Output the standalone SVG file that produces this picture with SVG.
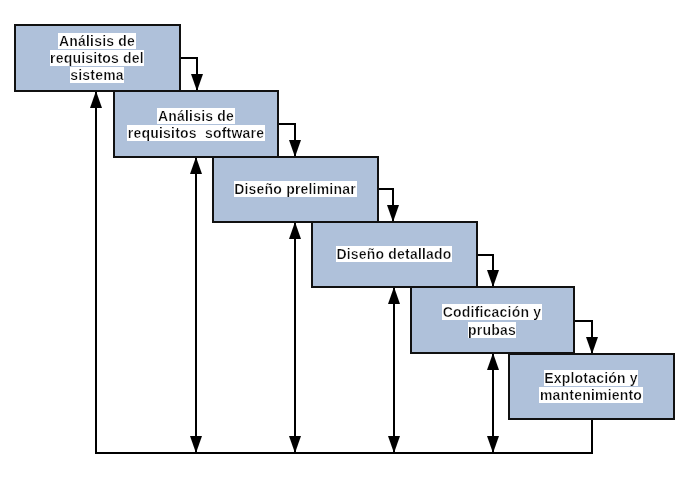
<svg xmlns="http://www.w3.org/2000/svg" width="698" height="492" viewBox="0 0 698 492">
<defs>
<marker id="ah" viewBox="0 0 17 12" markerWidth="17" markerHeight="12" refX="17" refY="6" markerUnits="userSpaceOnUse" orient="auto-start-reverse">
<path d="M0,0 L17,6 L0,12 z" fill="#000"/>
</marker>
<filter id="bg" x="0" y="0" width="1" height="1">
<feFlood flood-color="#fff"/>
<feComposite in="SourceGraphic"/>
</filter>
</defs>
<style>
.box{fill:#AFC1DA;stroke:#111;stroke-width:2}
.t{font-family:"Liberation Sans",Arial,sans-serif;font-weight:bold;font-size:14px;letter-spacing:0.2px;text-anchor:middle;fill:#111;filter:url(#bg)}
.c{fill:none;stroke:#000;stroke-width:2}
</style>
<rect width="698" height="492" fill="#fff"/>
<g id="connectors">
<path class="c" d="M180,58 H197 V91" marker-end="url(#ah)"/>
<path class="c" d="M278,124 H295 V157" marker-end="url(#ah)"/>
<path class="c" d="M378,189 H393 V222" marker-end="url(#ah)"/>
<path class="c" d="M477,255 H493 V287" marker-end="url(#ah)"/>
<path class="c" d="M574,321 H592 V354" marker-end="url(#ah)"/>
<path class="c" d="M592,419 V453 H96 V91" marker-end="url(#ah)"/>
<path class="c" d="M196,157 V453" marker-start="url(#ah)" marker-end="url(#ah)"/>
<path class="c" d="M295,222 V453" marker-start="url(#ah)" marker-end="url(#ah)"/>
<path class="c" d="M394,287 V453" marker-start="url(#ah)" marker-end="url(#ah)"/>
<path class="c" d="M493,353 V453" marker-start="url(#ah)" marker-end="url(#ah)"/>
</g>
<g id="n1">
<rect class="box" x="15" y="25" width="165" height="66"/>
<text class="t" x="97" y="46">Análisis de</text>
<text class="t" x="97" y="63">requisitos del</text>
<text class="t" x="97" y="80">sistema</text>
</g>
<g id="n2">
<rect class="box" x="114" y="91" width="164" height="66"/>
<text class="t" x="196" y="121">Análisis de</text>
<text class="t" x="196" y="138" xml:space="preserve">requisitos  software</text>
</g>
<g id="n3">
<rect class="box" x="213" y="157" width="165" height="65"/>
<text class="t" x="295" y="194">Diseño preliminar</text>
</g>
<g id="n4">
<rect class="box" x="312" y="222" width="165" height="65"/>
<text class="t" x="394" y="259">Diseño detallado</text>
</g>
<g id="n5">
<rect class="box" x="411" y="287" width="163" height="66"/>
<text class="t" x="492" y="317">Codificación y</text>
<text class="t" x="492" y="335">prubas</text>
</g>
<g id="n6">
<rect class="box" x="509" y="354" width="165" height="65"/>
<text class="t" x="591" y="383">Explotación y</text>
<text class="t" x="591" y="400">mantenimiento</text>
</g>
</svg>
